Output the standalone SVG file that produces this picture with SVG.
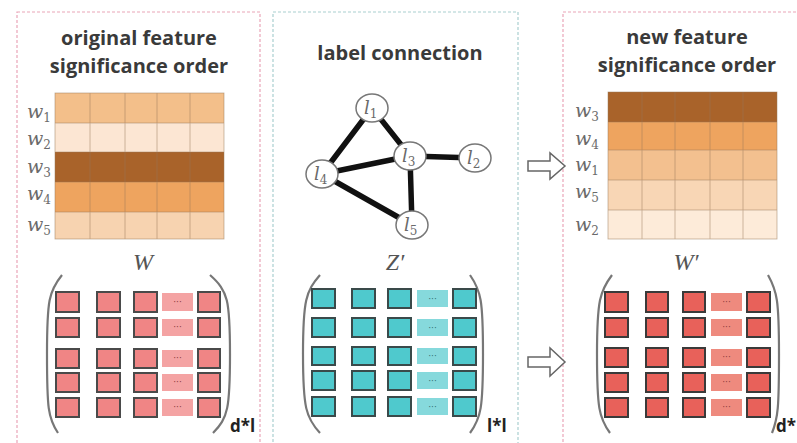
<svg xmlns="http://www.w3.org/2000/svg" width="797" height="443" viewBox="0 0 797 443">
<style>
.title{font-family:"Open Sans","Liberation Sans",sans-serif;font-weight:bold;font-size:20px;fill:#3a3a3a;text-anchor:middle}
.math{font-family:"DejaVu Serif","Liberation Serif",serif;font-style:italic;fill:#6a6a6a}
.wl{font-size:19px}
.sub{font-size:12px;font-style:normal}
.big{font-family:"Liberation Serif",serif;font-style:italic;font-size:24px;fill:#555;text-anchor:middle}
.dim{font-family:"Open Sans","Liberation Sans",sans-serif;font-weight:bold;font-size:17px;fill:#222}
.grid{stroke:#9a7a5a;stroke-width:0.8;opacity:0.6}
.paren{fill:none;stroke:#777;stroke-width:2.2}
.sqL{fill:#f08585;stroke:#4a4a4a;stroke-width:2}
.dL{fill:#f4a3a3}
.sqM{fill:#4fc9cd;stroke:#3a4a4a;stroke-width:2}
.dM{fill:#86d9dc}
.sqR{fill:#e8615a;stroke:#3a3a3a;stroke-width:2}
.dR{fill:#ee8a7e}
.dots{font-family:"DejaVu Sans",sans-serif;font-size:9px;fill:#8a3a3a;text-anchor:middle}
.edge{stroke:#111;stroke-width:5.5;stroke-linecap:round}
.node{fill:#fff;stroke:#777;stroke-width:1.5}
.arrow{fill:#fff;stroke:#666;stroke-width:1.5}
</style>

<!-- panel borders -->
<g id="panel-left">
<rect x="17" y="12" width="243" height="440" fill="none" stroke="#eaa5b8" stroke-width="1.2" stroke-dasharray="3,2"/>
<text class="title" x="139" y="45">original feature</text>
<text class="title" x="139" y="73">significance order</text>
</g>
<g id="panel-middle">
<rect x="273" y="12" width="245" height="440" fill="none" stroke="#a9cfd0" stroke-width="1.2" stroke-dasharray="3,2"/>
<text class="title" x="400" y="60">label connection</text>
</g>
<g id="panel-right">
<rect x="563" y="12" width="250" height="440" fill="none" stroke="#eaa5b8" stroke-width="1.2" stroke-dasharray="3,2"/>
<text class="title" x="687" y="44">new feature</text>
<text class="title" x="687" y="72">significance order</text>
</g>

<!-- left weight matrix -->
<g id="matrix-W">
<rect x="55" y="93" width="169" height="30" fill="#f3bf8a"/>
<rect x="55" y="123" width="169" height="29" fill="#fce6d3"/>
<rect x="55" y="152" width="169" height="30" fill="#a9632a"/>
<rect x="55" y="182" width="169" height="30" fill="#eea45f"/>
<rect x="55" y="212" width="169" height="27" fill="#f7d3b0"/>
<g class="grid">
<line x1="90" y1="93" x2="90" y2="239"/><line x1="125" y1="93" x2="125" y2="239"/>
<line x1="157" y1="93" x2="157" y2="239"/><line x1="190" y1="93" x2="190" y2="239"/>
<line x1="55" y1="123" x2="224" y2="123"/><line x1="55" y1="152" x2="224" y2="152"/>
<line x1="55" y1="182" x2="224" y2="182"/><line x1="55" y1="212" x2="224" y2="212"/>
<rect x="55" y="93" width="169" height="146" fill="none"/>
</g>
<text class="math wl" x="27" y="118">w<tspan class="sub" dy="4">1</tspan></text>
<text class="math wl" x="27" y="145">w<tspan class="sub" dy="4">2</tspan></text>
<text class="math wl" x="27" y="173">w<tspan class="sub" dy="4">3</tspan></text>
<text class="math wl" x="27" y="200">w<tspan class="sub" dy="4">4</tspan></text>
<text class="math wl" x="27" y="231">w<tspan class="sub" dy="4">5</tspan></text>
<text class="big" x="143" y="270">W</text>
</g>

<!-- right weight matrix -->
<g id="matrix-W-prime">
<rect x="608" y="92" width="169" height="30" fill="#a9632a"/>
<rect x="608" y="122" width="169" height="28" fill="#eea45f"/>
<rect x="608" y="150" width="169" height="30" fill="#f3c08f"/>
<rect x="608" y="180" width="169" height="30" fill="#f8d6b5"/>
<rect x="608" y="210" width="169" height="29" fill="#fdebd9"/>
<g class="grid">
<line x1="642" y1="92" x2="642" y2="239"/><line x1="675" y1="92" x2="675" y2="239"/>
<line x1="710" y1="92" x2="710" y2="239"/><line x1="743" y1="92" x2="743" y2="239"/>
<line x1="608" y1="122" x2="777" y2="122"/><line x1="608" y1="150" x2="777" y2="150"/>
<line x1="608" y1="180" x2="777" y2="180"/><line x1="608" y1="210" x2="777" y2="210"/>
<rect x="608" y="92" width="169" height="147" fill="none"/>
</g>
<text class="math wl" x="575" y="117">w<tspan class="sub" dy="4">3</tspan></text>
<text class="math wl" x="575" y="145">w<tspan class="sub" dy="4">4</tspan></text>
<text class="math wl" x="575" y="171">w<tspan class="sub" dy="4">1</tspan></text>
<text class="math wl" x="575" y="198">w<tspan class="sub" dy="4">5</tspan></text>
<text class="math wl" x="575" y="231">w<tspan class="sub" dy="4">2</tspan></text>
<text class="big" x="686" y="270">W′</text>
</g>

<!-- graph connectors -->
<g id="connectors">
<line class="edge" x1="372" y1="108" x2="322" y2="174"/>
<line class="edge" x1="372" y1="108" x2="410" y2="156"/>
<line class="edge" x1="410" y1="156" x2="475" y2="158"/>
<line class="edge" x1="410" y1="156" x2="322" y2="174"/>
<line class="edge" x1="410" y1="156" x2="412" y2="225"/>
<line class="edge" x1="322" y1="174" x2="412" y2="225"/>
</g>
<g id="node-l1"><ellipse class="node" cx="372" cy="108" rx="16" ry="14"/><text class="math" font-size="18" x="364" y="114">l<tspan class="sub" dy="4">1</tspan></text></g>
<g id="node-l3"><ellipse class="node" cx="410" cy="156" rx="16" ry="14"/><text class="math" font-size="18" x="402" y="162">l<tspan class="sub" dy="4">3</tspan></text></g>
<g id="node-l2"><ellipse class="node" cx="475" cy="158" rx="16" ry="14"/><text class="math" font-size="18" x="467" y="164">l<tspan class="sub" dy="4">2</tspan></text></g>
<g id="node-l4"><ellipse class="node" cx="322" cy="174" rx="16" ry="14"/><text class="math" font-size="18" x="314" y="180">l<tspan class="sub" dy="4">4</tspan></text></g>
<g id="node-l5"><ellipse class="node" cx="412" cy="225" rx="16" ry="14"/><text class="math" font-size="18" x="404" y="231">l<tspan class="sub" dy="4">5</tspan></text></g>
<text class="big" x="395" y="270">Z′</text>

<!-- arrows -->
<g id="arrows">
<polygon class="arrow" points="528,161 550,161 550,153 565,166 550,179 550,171 528,171"/>
<polygon class="arrow" points="528,357 550,357 550,348 565,362 550,376 550,367 528,367"/>
</g>

<!-- bottom left matrix d*l -->
<g id="bottom-left">
<path class="paren" d="M62,275 C49,291 47,300 47,354 C47,408 48,418 58,433"/>
<path class="paren" d="M210,275 C228,291 230,300 230,354 C230,408 228,418 213,433"/>
<g>
<rect class="sqL" x="56" y="292" width="23" height="20"/><rect class="sqL" x="97" y="292" width="23" height="20"/><rect class="sqL" x="134" y="292" width="23" height="20"/><rect class="dL" x="162" y="293" width="31" height="18"/><rect class="sqL" x="198" y="292" width="22" height="20"/>
<rect class="sqL" x="56" y="318" width="23" height="19"/><rect class="sqL" x="97" y="318" width="23" height="19"/><rect class="sqL" x="134" y="318" width="23" height="19"/><rect class="dL" x="162" y="319" width="31" height="17"/><rect class="sqL" x="198" y="318" width="22" height="19"/>
<rect class="sqL" x="56" y="349" width="23" height="19"/><rect class="sqL" x="97" y="349" width="23" height="19"/><rect class="sqL" x="134" y="349" width="23" height="19"/><rect class="dL" x="162" y="350" width="31" height="17"/><rect class="sqL" x="198" y="349" width="22" height="19"/>
<rect class="sqL" x="56" y="373" width="23" height="19"/><rect class="sqL" x="97" y="373" width="23" height="19"/><rect class="sqL" x="134" y="373" width="23" height="19"/><rect class="dL" x="162" y="374" width="31" height="17"/><rect class="sqL" x="198" y="373" width="22" height="19"/>
<rect class="sqL" x="56" y="398" width="23" height="19"/><rect class="sqL" x="97" y="398" width="23" height="19"/><rect class="sqL" x="134" y="398" width="23" height="19"/><rect class="dL" x="162" y="399" width="31" height="17"/><rect class="sqL" x="198" y="398" width="22" height="19"/>
</g>
<text class="dots" x="177.5" y="305">···</text><text class="dots" x="177.5" y="330">···</text><text class="dots" x="177.5" y="361">···</text><text class="dots" x="177.5" y="385">···</text><text class="dots" x="177.5" y="410">···</text>
<text class="dim" x="230" y="432">d*l</text>
</g>

<!-- bottom middle matrix l*l -->
<g id="bottom-middle">
<path class="paren" d="M320,275 C306,291 303,300 303,354 C303,408 306,418 320,433"/>
<path class="paren" d="M470,275 C481,291 483,300 483,354 C483,408 481,418 470,433"/>
<g>
<rect class="sqM" x="312" y="289" width="23" height="19"/><rect class="sqM" x="352" y="289" width="23" height="19"/><rect class="sqM" x="388" y="289" width="23" height="19"/><rect class="dM" x="417" y="290" width="31" height="17"/><rect class="sqM" x="453" y="289" width="23" height="19"/>
<rect class="sqM" x="312" y="318" width="23" height="19"/><rect class="sqM" x="352" y="318" width="23" height="19"/><rect class="sqM" x="388" y="318" width="23" height="19"/><rect class="dM" x="417" y="319" width="31" height="17"/><rect class="sqM" x="453" y="318" width="23" height="19"/>
<rect class="sqM" x="312" y="347" width="23" height="18"/><rect class="sqM" x="352" y="347" width="23" height="18"/><rect class="sqM" x="388" y="347" width="23" height="18"/><rect class="dM" x="417" y="348" width="31" height="16"/><rect class="sqM" x="453" y="347" width="23" height="18"/>
<rect class="sqM" x="312" y="371" width="23" height="19"/><rect class="sqM" x="352" y="371" width="23" height="19"/><rect class="sqM" x="388" y="371" width="23" height="19"/><rect class="dM" x="417" y="372" width="31" height="17"/><rect class="sqM" x="453" y="371" width="23" height="19"/>
<rect class="sqM" x="312" y="397" width="23" height="19"/><rect class="sqM" x="352" y="397" width="23" height="19"/><rect class="sqM" x="388" y="397" width="23" height="19"/><rect class="dM" x="417" y="398" width="31" height="17"/><rect class="sqM" x="453" y="397" width="23" height="19"/>
</g>
<text class="dots" x="432.5" y="302" style="fill:#2f6f72">···</text><text class="dots" x="432.5" y="331" style="fill:#2f6f72">···</text><text class="dots" x="432.5" y="359" style="fill:#2f6f72">···</text><text class="dots" x="432.5" y="384" style="fill:#2f6f72">···</text><text class="dots" x="432.5" y="410" style="fill:#2f6f72">···</text>
<text class="dim" x="487" y="432">l*l</text>
</g>

<!-- bottom right matrix -->
<g id="bottom-right">
<path class="paren" d="M612,275 C600,291 597,300 597,354 C597,408 599,418 610,433"/>
<path class="paren" d="M768,275 C777,291 779,300 779,354 C779,408 778,418 772,433"/>
<g>
<rect class="sqR" x="605" y="292" width="23" height="20"/><rect class="sqR" x="646" y="292" width="22" height="20"/><rect class="sqR" x="683" y="292" width="22" height="20"/><rect class="dR" x="711" y="293" width="31" height="18"/><rect class="sqR" x="747" y="292" width="23" height="20"/>
<rect class="sqR" x="605" y="318" width="23" height="19"/><rect class="sqR" x="646" y="318" width="22" height="19"/><rect class="sqR" x="683" y="318" width="22" height="19"/><rect class="dR" x="711" y="319" width="31" height="17"/><rect class="sqR" x="747" y="318" width="23" height="19"/>
<rect class="sqR" x="605" y="348" width="23" height="19"/><rect class="sqR" x="646" y="348" width="22" height="19"/><rect class="sqR" x="683" y="348" width="22" height="19"/><rect class="dR" x="711" y="349" width="31" height="17"/><rect class="sqR" x="747" y="348" width="23" height="19"/>
<rect class="sqR" x="605" y="373" width="23" height="19"/><rect class="sqR" x="646" y="373" width="22" height="19"/><rect class="sqR" x="683" y="373" width="22" height="19"/><rect class="dR" x="711" y="374" width="31" height="17"/><rect class="sqR" x="747" y="373" width="23" height="19"/>
<rect class="sqR" x="605" y="398" width="23" height="19"/><rect class="sqR" x="646" y="398" width="22" height="19"/><rect class="sqR" x="683" y="398" width="22" height="19"/><rect class="dR" x="711" y="399" width="31" height="17"/><rect class="sqR" x="747" y="398" width="23" height="19"/>
</g>
<text class="dots" x="726.5" y="305">···</text><text class="dots" x="726.5" y="330">···</text><text class="dots" x="726.5" y="360">···</text><text class="dots" x="726.5" y="385">···</text><text class="dots" x="726.5" y="410">···</text>
<text class="dim" x="776" y="432" font-size="14">d*</text>
</g>
</svg>
